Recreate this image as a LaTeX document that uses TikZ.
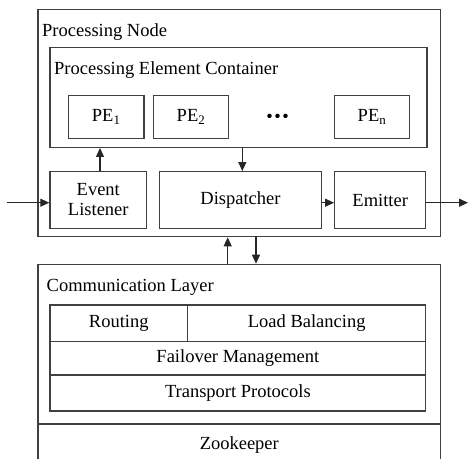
\documentclass[tikz,border=0pt]{standalone}
\usepackage{fontspec}
\setmainfont{Liberation Serif}
\usetikzlibrary{arrows.meta}
\tikzset{
  box/.style={draw=black!75, line width=1.3pt, inner sep=0pt, align=center},
  title/.style={inner sep=0pt, anchor=base west},
  flow/.style={draw=black!85, line width=1.1pt, -{Triangle[length=9pt,width=8pt]}}
}

\begin{document}
\begin{tikzpicture}[x=1pt, y=-1pt, font=\fontsize{18.5}{21}\selectfont]
  \useasboundingbox (0,0) rectangle (468,458);
  % processing node
  \node[box, minimum width=402.7pt, minimum height=227.4pt] (pn) at (239.3,123) {};
  \node[title] (pnlabel) at (42,36) {Processing Node};
  \node[box, minimum width=377pt, minimum height=100pt] (pec) at (238.5,97.3) {};
  \node[title] (peclabel) at (54,74) {Processing Element Container};
  \node[box, minimum width=75.7pt, minimum height=42.6pt] (pe1) at (106.2,117) {PE\textsubscript{1}};
  \node[box, minimum width=75.4pt, minimum height=42.6pt] (pe2) at (191,117) {PE\textsubscript{2}};
  \node (dots) at (277.7,118) {\textbullet\kern1.5pt\textbullet\kern1.5pt\textbullet};
  \node[box, minimum width=75.4pt, minimum height=42.6pt] (pen) at (372,117) {PE\textsubscript{n}};
  \node[box, minimum width=96.7pt, minimum height=56.6pt] (el) at (98.3,200) {Event\\[-1pt]Listener};
  \node[box, minimum width=162.4pt, minimum height=56.6pt] (disp) at (240.5,200) {Dispatcher};
  \node[box, minimum width=91pt, minimum height=56.6pt] (em) at (380.2,200) {Emitter};
  \coordinate (in) at (7,202.7);
  \coordinate (out) at (468,202.7);
  \draw[flow] (in) -- (el.west |- in);
  \draw[flow] ([xshift=1.7pt]el.north) -- ([xshift=1.7pt]el.north |- pec.south);
  \draw[flow] ([xshift=1.8pt]disp.north |- pec.south) -- ([xshift=1.8pt]disp.north);
  \draw[flow] (disp.east |- in) -- (em.west |- in);
  \draw[flow] (em.east |- in) -- (out);
  % communication layer
  \node[box, minimum width=402.7pt, minimum height=159.7pt] (cl) at (239.3,344.2) {};
  \node[title] (cllabel) at (46.5,291.5) {Communication Layer};
  \node[box, minimum width=137.7pt, minimum height=36.3pt] (rt) at (118.8,323.2) {Routing};
  \node[box, minimum width=238pt, minimum height=36.3pt] (lb) at (306.7,323.2) {Load Balancing};
  \node[box, minimum width=375.7pt, minimum height=33.7pt] (fm) at (237.9,358.2) {Failover Management};
  \node[box, minimum width=375.7pt, minimum height=36pt] (tp) at (237.9,393) {Transport Protocols};
  \node[box, minimum width=402.7pt, minimum height=42pt] (zk) at (239.3,445) {Zookeeper};
  \draw[flow] (227.7,0 |- cl.north) -- (227.7,0 |- pn.south);
  \draw[flow] (256,0 |- pn.south) -- (256,0 |- cl.north);
\end{tikzpicture}
\end{document}
